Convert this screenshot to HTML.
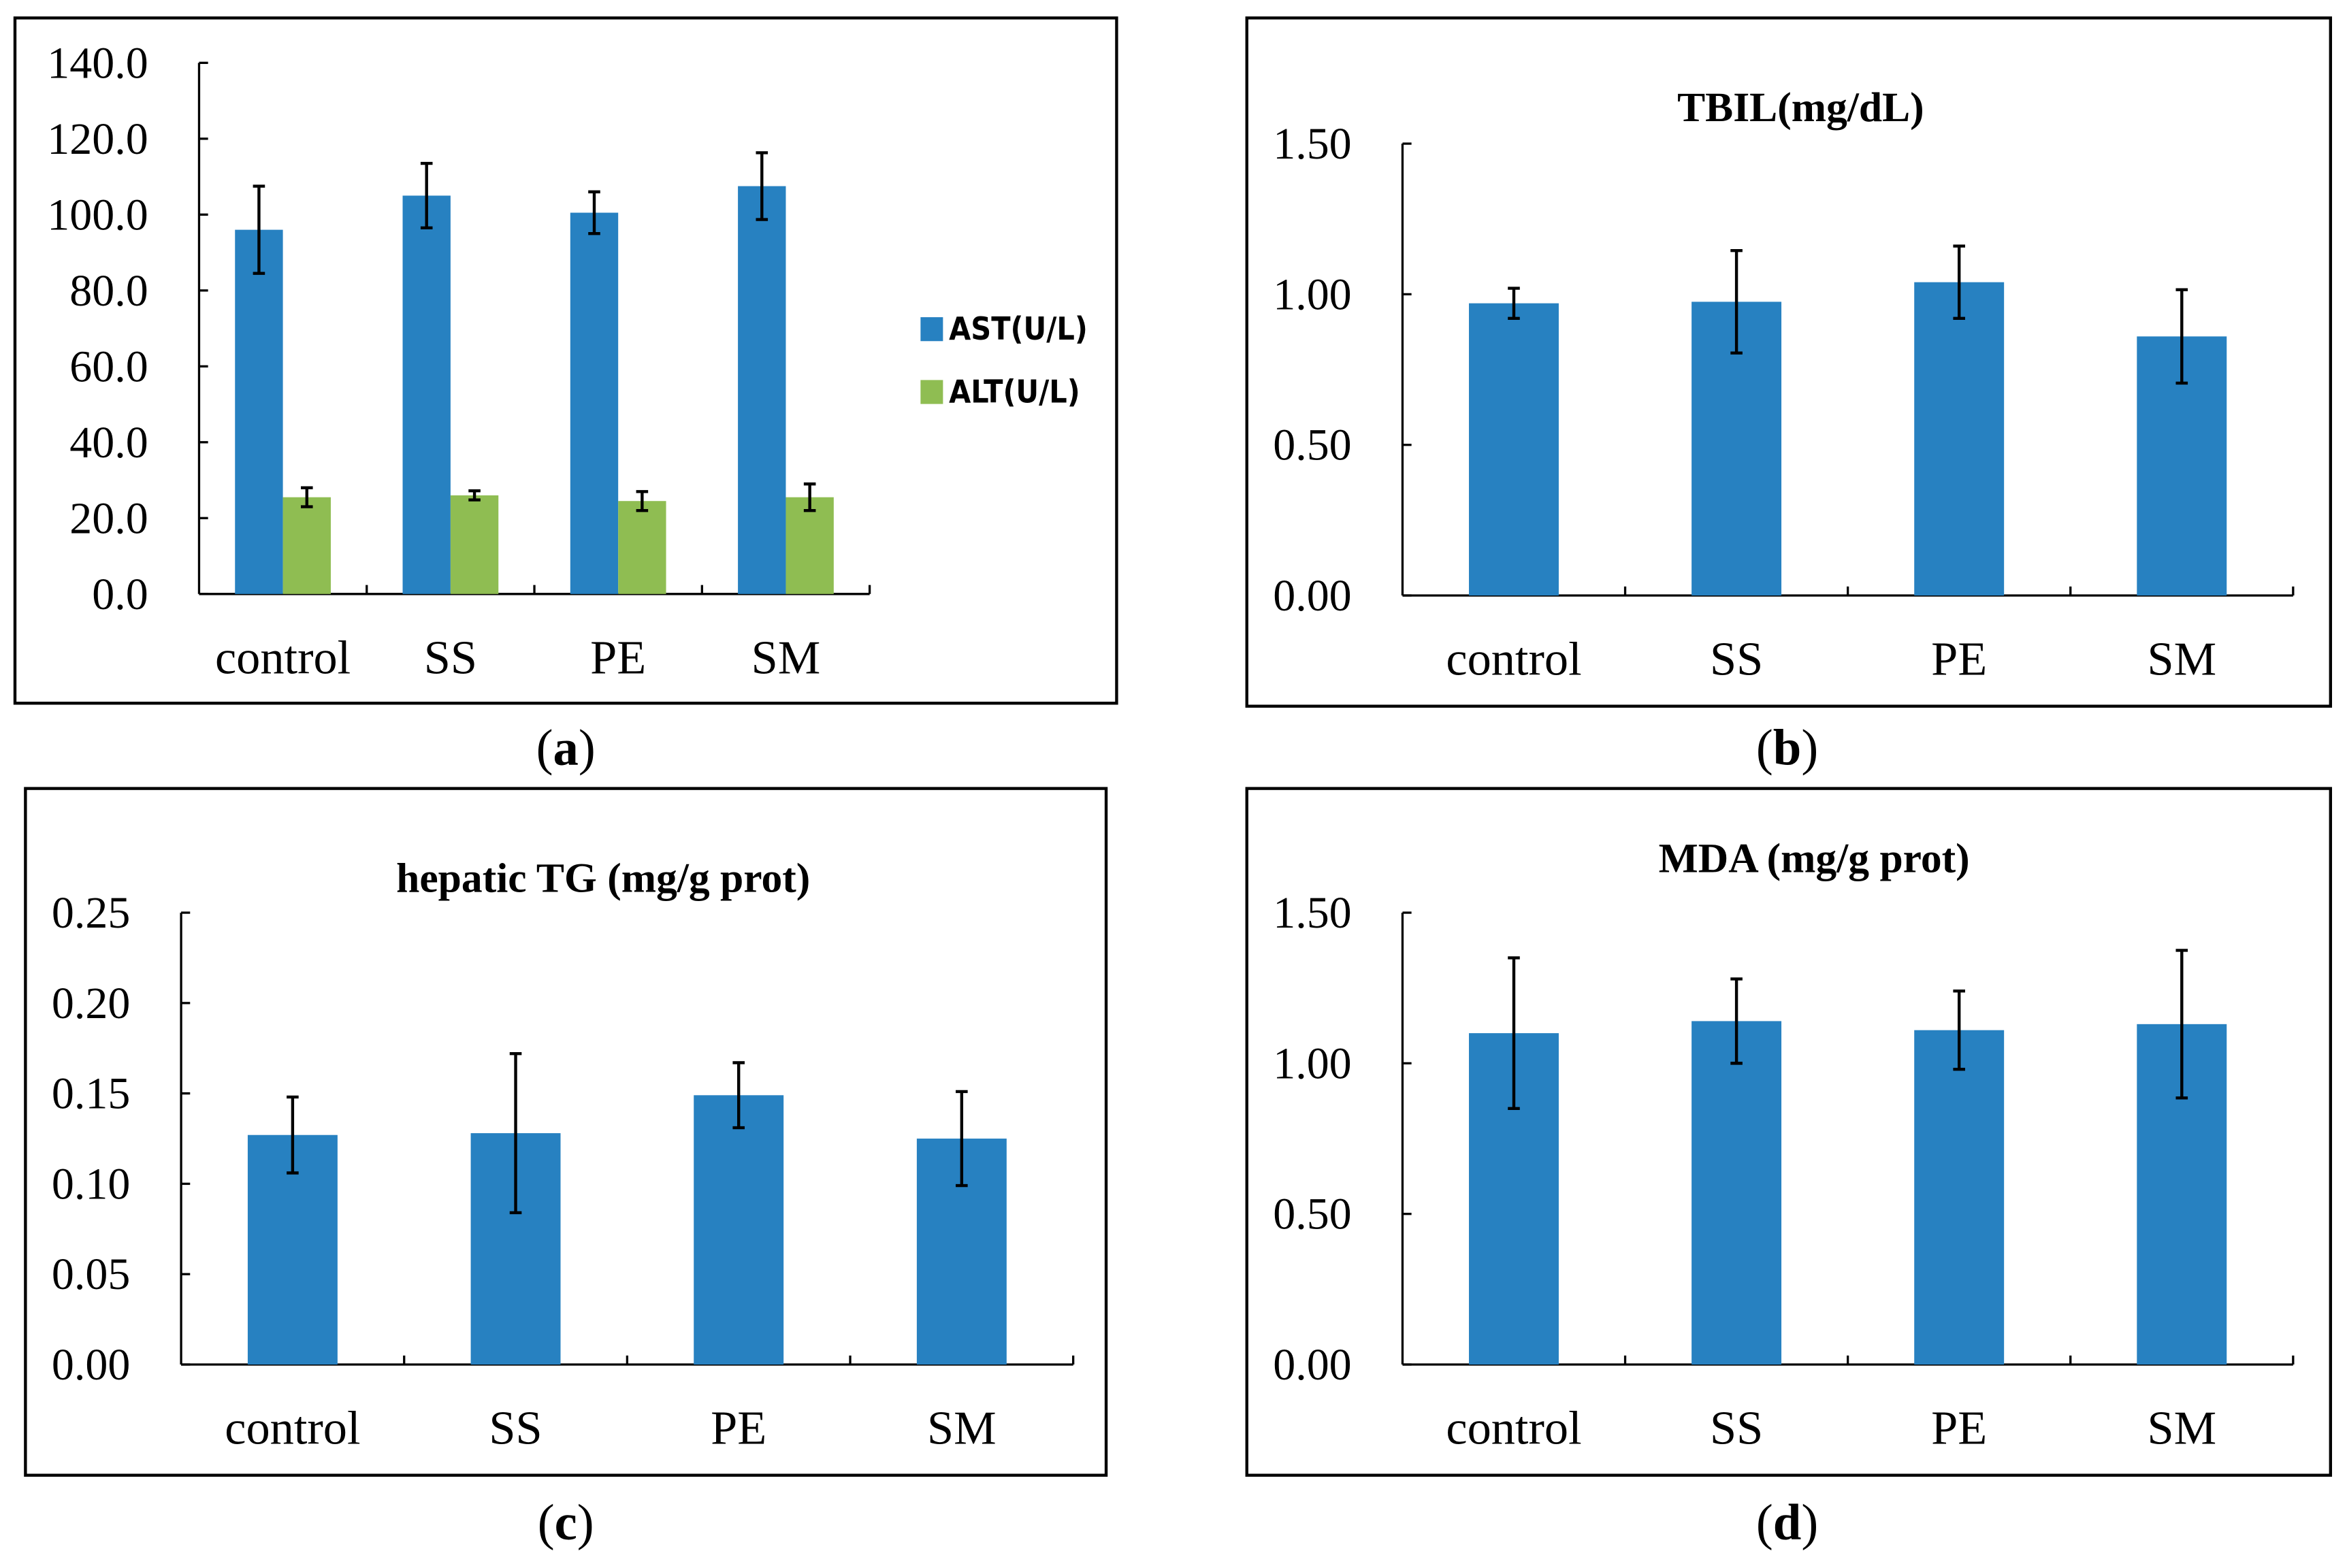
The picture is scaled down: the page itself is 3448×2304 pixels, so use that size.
<!DOCTYPE html>
<html><head><meta charset="utf-8"><style>
html,body{margin:0;padding:0;background:#fff;}
svg{display:block;}
text{font-family:"Liberation Serif",serif;}
</style></head><body>
<svg id="fig" width="3448" height="2304" viewBox="0 0 1568 1048" preserveAspectRatio="none">
<rect x="0" y="0" width="1568" height="1048" fill="#fff"/>
</svg>
<script>
const categories = ["control","SS","PE","SM"];
const astValues = [96, 105, 100.5, 107.5];
const astErrors = [11.5, 8.5, 5.5, 8.8];
const altValues = [25.5, 26, 24.5, 25.5];
const altErrors = [2.5, 1.2, 2.5, 3.5];
const tbilValues = [0.97, 0.975, 1.04, 0.86];
const tbilErrors = [0.05, 0.17, 0.12, 0.155];
const tgValues = [0.127, 0.128, 0.149, 0.125];
const tgErrors = [0.021, 0.044, 0.018, 0.026];
const mdaValues = [1.10, 1.14, 1.11, 1.13];
const mdaErrors = [0.25, 0.14, 0.13, 0.245];
const ticksA = ["0.0","20.0","40.0","60.0","80.0","100.0","120.0","140.0"];
const ticksB = ["0.00","0.50","1.00","1.50"];
const ticksC = ["0.00","0.05","0.10","0.15","0.20","0.25"];

const NS="http://www.w3.org/2000/svg";
const svg=document.getElementById('fig');
function el(tag,attrs,parent,text){const e=document.createElementNS(NS,tag);for(const k in attrs)e.setAttribute(k,attrs[k]);if(text!==undefined)e.textContent=text;(parent||svg).appendChild(e);return e;}

function panel(cfg){
  const g=el('g',{});
  
  
  const box=el('rect',{x:cfg.box[0],y:cfg.box[1],width:cfg.box[2]-cfg.box[0],height:cfg.box[3]-cfg.box[1],fill:'none',stroke:'#000','stroke-width':2},g);
  
  
  const x0=cfg.ax,x1=cfg.axEnd,yT=cfg.yTop,yB=cfg.yBot,max=cfg.max;
  const ys=v=>yB-(v/max)*(yB-yT);
  const n=categories.length, slot=(x1-x0)/n;
  const xc=i=>x0+slot*(i+0.5);
  el('line',{x1:x0,y1:yT,x2:x0,y2:yB,stroke:'#000','stroke-width':1.5},g);
  cfg.ticks.forEach((t,i)=>{
    const v=parseFloat(t);const y=ys(v);
    el('line',{x1:x0,y1:y,x2:x0+6,y2:y,stroke:'#000','stroke-width':1.5},g);
    const tl=el('text',{x:x0-(cfg.tickGap||34),y:y+10,'text-anchor':'end','font-size':30},g,t);
    
    
  });
  el('line',{x1:x0,y1:yB,x2:x1,y2:yB,stroke:'#000','stroke-width':1.5},g);
  for(let i=1;i<=n;i++){el('line',{x1:x0+slot*i,y1:yB,x2:x0+slot*i,y2:yB-6,stroke:'#000','stroke-width':1.5},g);}
  categories.forEach((c,i)=>{
    const t=el('text',{x:xc(i),y:yB+53,'text-anchor':'middle','font-size':32},g,c);
    
    
  });
  cfg.series.forEach(s=>{
    s.values.forEach((v,i)=>{
      const bx=xc(i)+s.offset-s.width/2;
      const r=el('rect',{x:bx,y:ys(v),width:s.width,height:yB-ys(v),fill:s.color},g);
      
      
      const cx=xc(i)+s.offset,e=s.errors[i];
      const eg=el('g',{stroke:'#000','stroke-width':2},g);
      
      
      el('line',{x1:cx,y1:ys(v+e),x2:cx,y2:ys(v-e)},eg);
      el('line',{x1:cx-4,y1:ys(v+e),x2:cx+4,y2:ys(v+e)},eg);
      el('line',{x1:cx-4,y1:ys(v-e),x2:cx+4,y2:ys(v-e)},eg);
    });
  });
  if(cfg.title){
    const t=el('text',{x:cfg.title[1],y:cfg.title[2],'text-anchor':'middle','font-size':28,'font-weight':'bold'},g,cfg.title[0]);
    
    
  }
  const cap=el('text',{x:cfg.cap[0],y:cfg.cap[1],'text-anchor':'middle','font-size':34},g);
  
  
  el('tspan',{},cap,'(');el('tspan',{'font-weight':'bold'},cap,cfg.letter);el('tspan',{},cap,')');
  return g;
}

panel({name:'panel-a',box:[10,12,746,470],ax:133,axEnd:581,yTop:42,yBot:397,max:140,ticks:ticksA,tickGap:34,
  series:[{key:'ast',values:astValues,errors:astErrors,color:'#2781c1',offset:-16,width:32},
          {key:'alt',values:altValues,errors:altErrors,color:'#8fbd52',offset:16,width:32}],
  cap:[378,511],letter:'a'});
const lg=el('g',{});


el('rect',{x:615,y:212,width:15,height:16,fill:'#2781c1'},lg);
el('text',{x:634,y:227,'font-size':21,'font-weight':'bold','style':'font-family:"DejaVu Sans Condensed","Liberation Sans",sans-serif'},lg,'AST(U/L)');
el('rect',{x:615,y:254,width:15,height:16,fill:'#8fbd52'},lg);
el('text',{x:634,y:269,'font-size':21,'font-weight':'bold','style':'font-family:"DejaVu Sans Condensed","Liberation Sans",sans-serif'},lg,'ALT(U/L)');

panel({name:'panel-b',box:[833,12,1557,472],ax:937,axEnd:1532,yTop:96,yBot:398,max:1.5,ticks:ticksB,tickGap:34,
  series:[{key:'tbil',values:tbilValues,errors:tbilErrors,color:'#2781c1',offset:0,width:60}],
  title:['TBIL(mg/dL)',1203,81],cap:[1194,511],letter:'b'});
panel({name:'panel-c',box:[17,527,739,986],ax:121,axEnd:717,yTop:610,yBot:912,max:0.25,ticks:ticksC,tickGap:34,
  series:[{key:'tg',values:tgValues,errors:tgErrors,color:'#2781c1',offset:0,width:60}],
  title:['hepatic TG (mg/g prot)',403,596],cap:[378,1029],letter:'c'});
panel({name:'panel-d',box:[833,527,1557,986],ax:937,axEnd:1532,yTop:610,yBot:912,max:1.5,ticks:ticksB,tickGap:34,
  series:[{key:'mda',values:mdaValues,errors:mdaErrors,color:'#2781c1',offset:0,width:60}],
  title:['MDA (mg/g prot)',1212,583],cap:[1194,1029],letter:'d'});
</script>
</body></html>
